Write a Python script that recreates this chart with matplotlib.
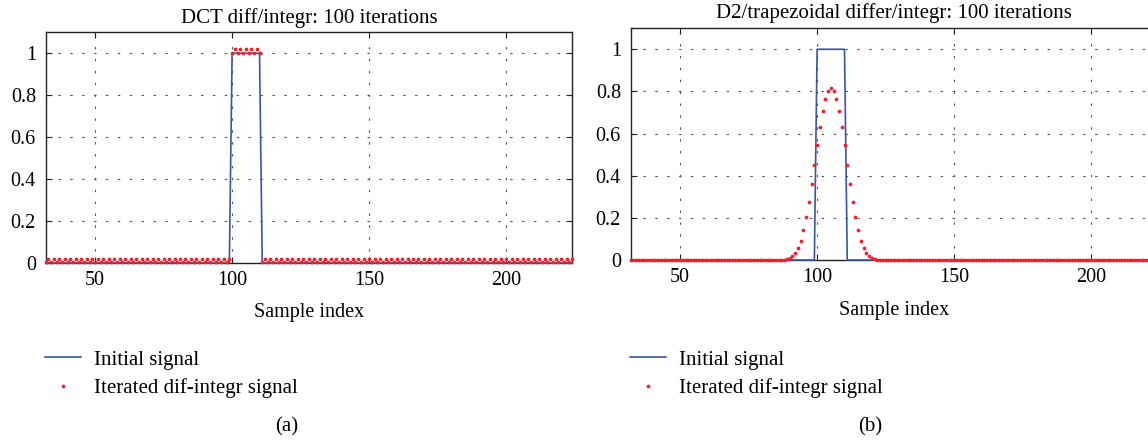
import numpy as np
import matplotlib
matplotlib.use("Agg")
import matplotlib.pyplot as plt
from matplotlib.lines import Line2D

plt.rcParams['font.family'] = ['Liberation Serif', 'DejaVu Serif']
plt.rcParams['font.size'] = 14

# ---- data -------------------------------------------------------------
sample_index = np.arange(32, 225)           # visible sample range
pulse_first, pulse_last = 100, 110          # samples equal to 1 in the initial signal
initial_signal = np.where((sample_index >= pulse_first) & (sample_index <= pulse_last), 1.0, 0.0)

# (a) DCT: small alternating ripple riding on the initial pulse
dct_left_pair = [0.007, 0.018]     # even, odd sample before the pulse
dct_top_pair = [1.0, 1.02]         # even, odd sample on the pulse
dct_right_pair = [0.018, 0.007]    # even, odd sample after the pulse
dct_signal = []
for n in sample_index:
    if n < pulse_first:
        dct_signal.append(dct_left_pair[n % 2])
    elif n <= pulse_last:
        dct_signal.append(dct_top_pair[n % 2])
    else:
        dct_signal.append(dct_right_pair[n % 2])
dct_signal = np.array(dct_signal)

# (b) D2/trapezoidal: smoothed bump, samples 88..122
bump_index = np.arange(88, 123)
bump_values = [0.002, 0.005, 0.0095, 0.019, 0.035, 0.058, 0.092, 0.142, 0.203,
               0.277, 0.361, 0.452, 0.544, 0.631, 0.709, 0.766, 0.802, 0.815,
               0.802, 0.766, 0.709, 0.631, 0.544, 0.452, 0.361, 0.277, 0.203,
               0.142, 0.092, 0.058, 0.035, 0.019, 0.0095, 0.005, 0.002]
trap_signal = np.zeros(len(sample_index))
for i, v in zip(bump_index, bump_values):
    trap_signal[sample_index == i] = v

x_ticks = [50, 100, 150, 200]
y_ticks = [0, 0.2, 0.4, 0.6, 0.8, 1]
y_tick_labels = ["0", "0.2", "0.4", "0.6", "0.8", "1"]
titles = ["DCT diff/integr: 100 iterations", "D2/trapezoidal differ/integr: 100 iterations"]
legend_labels = ["Initial signal", "Iterated dif-integr signal"]
panel_labels = ["(a)", "(b)"]

BLUE = "#3a55a5"
RED = "#f0202a"

W, H = 1148, 441
fig = plt.figure(figsize=(W / 100, H / 100), dpi=100)

def px(x0, y0, x1, y1):
    return [x0 / W, 1 - y1 / H, (x1 - x0) / W, (y1 - y0) / H]

axes_boxes = [px(45.7, 32.3, 572, 263), px(630.7, 28.2, 1157, 260)]
series = [dct_signal, trap_signal]
legend_x = [45, 630]
panel_x = [287, 870]

for k in range(2):
    ax = fig.add_axes(axes_boxes[k])
    ax.plot(sample_index, initial_signal, color=BLUE, lw=1.2, zorder=4, clip_on=False)
    ax.plot(sample_index, series[k], linestyle='none', marker='o', ms=2.7,
            mfc=RED, mec=RED, mew=0, color=RED, zorder=5, clip_on=False)
    ax.set_xlim(32, 224)
    ax.set_ylim(0, 1.1)
    ax.set_xticks(x_ticks)
    ax.set_yticks(y_ticks)
    ax.set_yticklabels(y_tick_labels)
    ax.tick_params(direction='in', length=4, width=0.8, top=True, right=True,
                   labelsize=14.5, pad=7, colors='#222222', labelcolor='black')
    ax.tick_params(axis='x', pad=6)
    ax.grid(True, linestyle=(0, (2.2, 8.5)), color='#555555', lw=0.8)
    for s in ax.spines.values():
        s.set_color('#222222')
        s.set_linewidth(1.0)
    ax.set_title(titles[k], pad=7, fontsize=15)
    ax.set_xlabel("Sample index", fontsize=14.5)
    ax.xaxis.set_label_coords(0.5, -0.175)

    handles = [Line2D([], [], color=BLUE, lw=1.2),
               Line2D([], [], linestyle='none', marker='o', ms=2.7, mfc=RED, mec=RED, mew=0)]
    fig.legend(handles, legend_labels, loc='upper left',
               bbox_to_anchor=(legend_x[k] / W, 1 - 350 / H), frameon=False,
               borderpad=0, borderaxespad=0, handlelength=1.75, handletextpad=0.62,
               labelspacing=0.4, fontsize=15)
    fig.text(panel_x[k] / W, 1 - 427 / H, panel_labels[k], ha='center', va='center', fontsize=15)

fig.savefig("out.png", dpi=100)
